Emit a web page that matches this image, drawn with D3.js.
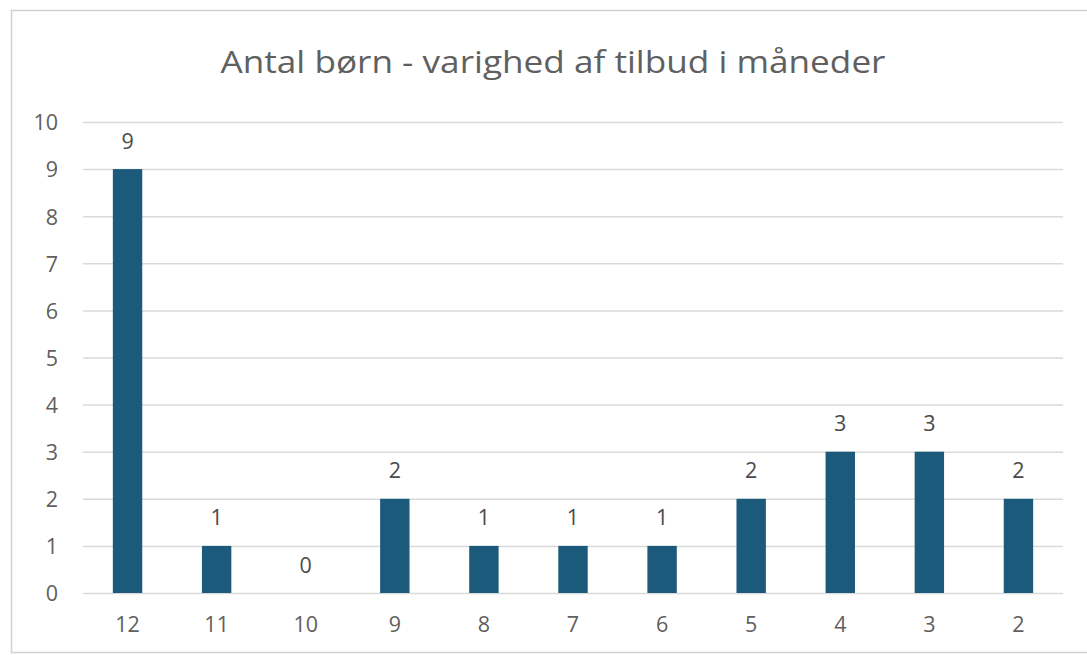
<!DOCTYPE html>
<html><head><meta charset="utf-8">
<script src="https://cdn.jsdelivr.net/npm/d3@7"></script>
<style>html,body{margin:0;padding:0;background:#fff;}svg{display:block;}</style>
</head><body>
<script>
const categories = ["12","11","10","9","8","7","6","5","4","3","2"];
const values = [9,1,0,2,1,1,1,2,3,3,2];
const yTicks = [0,1,2,3,4,5,6,7,8,9,10];
const title = "Antal børn - varighed af tilbud i måneder";

const W = 1087, H = 655;
const svg = d3.select("body").append("svg").attr("width", W).attr("height", H);
svg.append("rect").attr("x", 11.5).attr("y", 10.5).attr("width", 1085).attr("height", 642)
  .attr("fill", "#fff").attr("stroke", "#d0d0d0").attr("stroke-width", 1.5);

const margin = {left: 83, right: 1063, top: 122, bottom: 593};
const x = d3.scaleBand().domain(categories).range([margin.left, margin.right]).paddingInner(0.67).paddingOuter(0.335);
const y = d3.scaleLinear().domain([0, 10]).range([margin.bottom, margin.top]);

const font = "'Open Sans', 'Liberation Sans', sans-serif";
const textColor = "#606060";
const fs = "21.5px";

// gridlines
svg.append("g").selectAll("line").data(yTicks).join("line")
  .attr("x1", margin.left).attr("x2", margin.right)
  .attr("y1", d => y(d) + 0.5).attr("y2", d => y(d) + 0.5)
  .attr("stroke", "#d9d9d9").attr("stroke-width", 1.5);

// y axis
const yAxis = d3.axisLeft(y).tickValues(yTicks).tickSize(0).tickPadding(0);
const gy = svg.append("g").attr("transform", `translate(58,1)`).call(yAxis);
gy.select(".domain").remove();
gy.selectAll("text").attr("fill", textColor).style("font-family", font).style("font-size", fs);

// x axis
const xAxis = d3.axisBottom(x).tickSize(0).tickPadding(0);
const gx = svg.append("g").attr("transform", `translate(0,617)`).call(xAxis);
gx.select(".domain").remove();
gx.selectAll("text").attr("fill", textColor).style("font-family", font).style("font-size", fs);

// bars
const data = categories.map((c, i) => ({c, v: values[i]}));
svg.append("g").selectAll("rect").data(data).join("rect")
  .attr("x", d => x(d.c)).attr("width", x.bandwidth())
  .attr("y", d => y(d.v)).attr("height", d => y(0) - y(d.v))
  .attr("fill", "#1b5a7a");

// labels
svg.append("g").selectAll("text").data(data).join("text")
  .attr("x", d => x(d.c) + x.bandwidth() / 2)
  .attr("y", d => y(d.v) - 28)
  .attr("dy", "0.35em")
  .attr("text-anchor", "middle")
  .attr("fill", "#4a4a4a").style("font-family", font).style("font-size", fs)
  .text(d => d.v);

// title
svg.append("text").attr("x", 553).attr("y", 73).attr("text-anchor", "middle")
  .attr("fill", textColor).style("font-family", font).style("font-size", "31px")
  .attr("textLength", 665).attr("lengthAdjust", "spacingAndGlyphs")
  .text(title);
</script>
</body></html>
